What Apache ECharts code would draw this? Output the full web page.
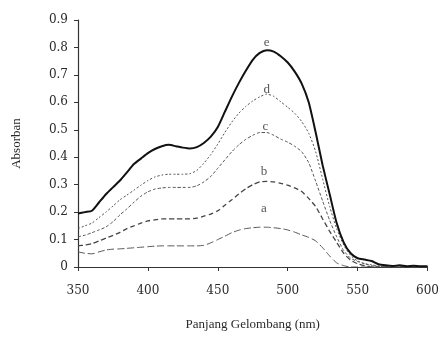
<!DOCTYPE html>
<html>
<head>
<meta charset="utf-8">
<script src="https://cdn.jsdelivr.net/npm/echarts@6/dist/echarts.min.js"></script>
<style>
  html, body { margin: 0; padding: 0; background: #fff; }
  #chart { width: 442px; height: 339px; }
</style>
</head>
<body>
<div id="chart"></div>
<script>
// panjang gelombang (nm), langkah 5 nm
var wavelengths = [350, 355, 360, 365, 370, 375, 380, 385, 390, 395,
  400, 405, 410, 415, 420, 425, 430, 435, 440, 445,
  450, 455, 460, 465, 470, 475, 480, 485, 490, 495,
  500, 505, 510, 515, 520, 525, 530, 535, 540, 545,
  550, 555, 560, 565, 570, 575, 580, 585, 590, 595, 600];

var absA = [0.055, 0.050, 0.048, 0.055, 0.062, 0.065, 0.066, 0.068, 0.070, 0.072,
  0.074, 0.076, 0.077, 0.077, 0.077, 0.077, 0.077, 0.077, 0.079, 0.088,
  0.100, 0.112, 0.125, 0.134, 0.140, 0.143, 0.145, 0.145, 0.143, 0.140,
  0.135, 0.127, 0.117, 0.108, 0.095, 0.070, 0.040, 0.015, 0.005, 0,
  0, 0, 0, 0, 0, 0, 0, 0, 0, 0, 0];
var absB = [0.077, 0.080, 0.085, 0.095, 0.105, 0.115, 0.126, 0.140, 0.150, 0.160,
  0.168, 0.172, 0.175, 0.175, 0.175, 0.175, 0.175, 0.178, 0.185, 0.193,
  0.205, 0.225, 0.245, 0.266, 0.285, 0.300, 0.310, 0.312, 0.310, 0.305,
  0.298, 0.288, 0.275, 0.250, 0.220, 0.175, 0.130, 0.090, 0.050, 0.025,
  0.012, 0.005, 0, 0, 0, 0, 0, 0, 0, 0, 0];
var absC = [0.110, 0.116, 0.125, 0.135, 0.146, 0.165, 0.190, 0.212, 0.236, 0.258,
  0.274, 0.284, 0.288, 0.290, 0.290, 0.290, 0.290, 0.296, 0.310, 0.330,
  0.360, 0.390, 0.420, 0.445, 0.465, 0.480, 0.490, 0.490, 0.480, 0.466,
  0.455, 0.440, 0.420, 0.380, 0.312, 0.240, 0.170, 0.110, 0.060, 0.032,
  0.020, 0.012, 0.005, 0.002, 0, 0, 0, 0, 0, 0, 0];
var absD = [0.140, 0.150, 0.160, 0.180, 0.200, 0.222, 0.245, 0.262, 0.280, 0.298,
  0.315, 0.328, 0.335, 0.338, 0.338, 0.338, 0.340, 0.352, 0.378, 0.410,
  0.448, 0.490, 0.528, 0.560, 0.585, 0.605, 0.620, 0.630, 0.622, 0.602,
  0.582, 0.560, 0.530, 0.488, 0.420, 0.320, 0.220, 0.140, 0.080, 0.042,
  0.022, 0.012, 0.008, 0.004, 0.002, 0, 0, 0, 0, 0, 0];
var absE = [0.195, 0.200, 0.205, 0.235, 0.265, 0.290, 0.315, 0.345, 0.375, 0.395,
  0.415, 0.430, 0.440, 0.445, 0.440, 0.435, 0.432, 0.437, 0.452, 0.475,
  0.510, 0.565, 0.620, 0.670, 0.715, 0.755, 0.780, 0.790, 0.785, 0.768,
  0.745, 0.712, 0.668, 0.600, 0.490, 0.370, 0.265, 0.160, 0.090, 0.050,
  0.032, 0.027, 0.022, 0.010, 0.006, 0.004, 0.006, 0.003, 0.005, 0.003, 0.003];

// huruf penanda kurva
var curveNames = ['a', 'b', 'c', 'd', 'e'];
var labelX = [483, 483, 484, 485, 485];
var labelY = [0.212, 0.347, 0.51, 0.646, 0.818];

var serif = 'DejaVu Serif';
var titleFont = 'Liberation Serif';
var inkColor = '#2a2a2a';

function pairs(vals) {
  return wavelengths.map(function (w, i) { return [w, vals[i]]; });
}

var lineStyles = [
  { color: '#555', width: 1, type: [7, 3] },
  { color: '#444', width: 1.3, type: [5, 3] },
  { color: '#555', width: 1, type: [3, 2] },
  { color: '#555', width: 1, type: [2, 2] },
  { color: '#111', width: 2, type: 'solid' }
];
var allVals = [absA, absB, absC, absD, absE];

var series = allVals.map(function (vals, i) {
  return {
    name: curveNames[i],
    type: 'line',
    data: pairs(vals),
    showSymbol: false,
    smooth: 0.2,
    lineStyle: lineStyles[i],
    z: i === 4 ? 5 : 3
  };
});

series.push({
  type: 'scatter',
  symbolSize: 0,
  data: labelX.map(function (x, i) { return [x, labelY[i], curveNames[i]]; }),
  label: {
    show: true,
    position: 'inside',
    formatter: function (p) { return p.data[2]; },
    fontFamily: titleFont,
    fontSize: 13,
    color: inkColor
  },
  z: 6
});

var option = {
  animation: false,
  grid: {
    left: 78,
    right: 12,
    top: 20,
    bottom: 72
  },
  xAxis: {
    type: 'value',
    min: 350,
    max: 600,
    interval: 50,
    name: 'Panjang Gelombang (nm)',
    nameLocation: 'middle',
    nameGap: 51,
    nameTextStyle: { fontFamily: titleFont, fontSize: 13, color: inkColor },
    axisLine: { lineStyle: { color: '#333', width: 1.2 } },
    axisTick: { length: 4, lineStyle: { color: '#333' } },
    axisLabel: { fontFamily: serif, fontSize: 12, color: inkColor, margin: 18 },
    splitLine: { show: false }
  },
  yAxis: {
    type: 'value',
    min: 0,
    max: 0.9,
    interval: 0.1,
    name: 'Absorban',
    nameLocation: 'middle',
    nameRotate: 90,
    nameGap: 55,
    nameTextStyle: { fontFamily: titleFont, fontSize: 13, color: inkColor },
    axisLine: { show: true, lineStyle: { color: '#333', width: 1.2 } },
    axisTick: { show: true, length: 4, lineStyle: { color: '#333' } },
    axisLabel: { fontFamily: serif, fontSize: 12, color: inkColor, margin: 10 },
    splitLine: { show: false }
  },
  series: series
};

var chart = echarts.init(document.getElementById('chart'));
chart.setOption(option);
</script>
</body>
</html>
